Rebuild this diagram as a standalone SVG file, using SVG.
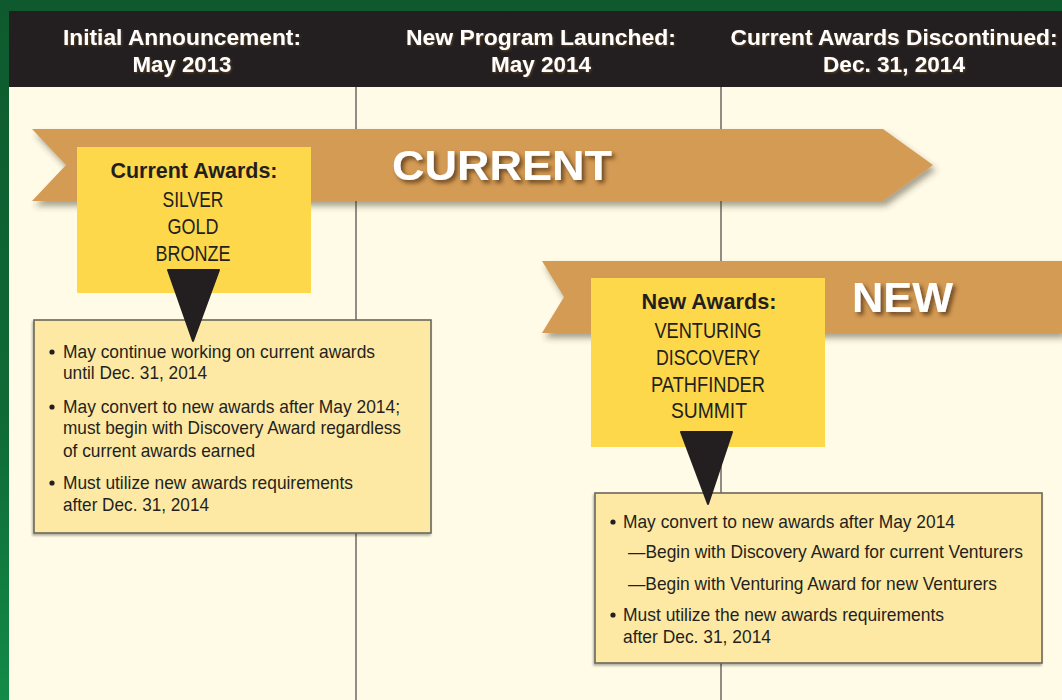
<svg xmlns="http://www.w3.org/2000/svg" width="1062" height="700" viewBox="0 0 1062 700">
<defs>
<linearGradient id="green" x1="0" y1="0" x2="0" y2="1">
<stop offset="0" stop-color="#0e5a2e"/>
<stop offset="0.6" stop-color="#0f6a36"/>
<stop offset="1" stop-color="#138a48"/>
</linearGradient>
<filter id="ribShadow" x="-5%" y="-30%" width="115%" height="170%">
<feDropShadow dx="3" dy="5" stdDeviation="3" flood-color="#3a3020" flood-opacity="0.45"/>
</filter>
<filter id="txtShadow" x="-10%" y="-30%" width="130%" height="170%">
<feDropShadow dx="3" dy="3" stdDeviation="2" flood-color="#4a2e0a" flood-opacity="0.75"/>
</filter>
<filter id="boxShadow" x="-5%" y="-5%" width="110%" height="115%">
<feDropShadow dx="-1" dy="2" stdDeviation="1.2" flood-color="#000" flood-opacity="0.3"/>
</filter>
<filter id="hdrGlow" x="-5%" y="-30%" width="110%" height="160%">
<feDropShadow dx="1" dy="1" stdDeviation="0.8" flood-color="#8a5a20" flood-opacity="0.6"/>
</filter>
</defs>
<style>
.hdr{font-family:"Liberation Sans",Arial,sans-serif;font-weight:bold;font-size:21.5px;fill:#ffffff;text-anchor:middle}
.ttl{font-family:"Liberation Sans",Arial,sans-serif;font-weight:bold;font-size:22px;fill:#231f20;text-anchor:middle}
.itm{font-family:"Liberation Sans",Arial,sans-serif;font-size:22.5px;fill:#231f20;text-anchor:middle}
.big{font-family:"Liberation Sans",Arial,sans-serif;font-weight:bold;fill:#ffffff}
.txt{font-family:"Liberation Sans",Arial,sans-serif;font-size:18.5px;fill:#231f20}
.rib{fill:#d49b55}
.ybox{fill:#fdd84b}
.info{fill:#fee9a4;stroke:#6b675c;stroke-width:1.6}
.vline{stroke:#918d84;stroke-width:2}
.ptr{fill:#231f20;stroke:#231f20;stroke-width:2;stroke-linejoin:round}
.dot{fill:#231f20}
</style>

<!-- background -->
<rect x="0" y="0" width="1062" height="700" fill="url(#green)"/>
<rect x="9" y="11" width="1053" height="76" fill="#231f20"/>
<rect x="9" y="87" width="1053" height="613" fill="#fffbe7"/>

<!-- header -->
<g id="header" filter="url(#hdrGlow)">
<text class="hdr" x="182" y="45" textLength="238" lengthAdjust="spacingAndGlyphs">Initial Announcement:</text>
<text class="hdr" x="182" y="72" textLength="99" lengthAdjust="spacingAndGlyphs">May 2013</text>
<text class="hdr" x="541" y="45" textLength="270" lengthAdjust="spacingAndGlyphs">New Program Launched:</text>
<text class="hdr" x="541" y="72" textLength="100" lengthAdjust="spacingAndGlyphs">May 2014</text>
<text class="hdr" x="894" y="45" textLength="327" lengthAdjust="spacingAndGlyphs">Current Awards Discontinued:</text>
<text class="hdr" x="894" y="72" textLength="142" lengthAdjust="spacingAndGlyphs">Dec. 31, 2014</text>
</g>

<!-- timeline divider lines -->
<g id="dividers">
<line class="vline" x1="356" y1="87" x2="356" y2="700"/>
<line class="vline" x1="721" y1="87" x2="721" y2="700"/>
</g>

<!-- CURRENT ribbon -->
<g id="ribbon-current">
<polygon class="rib" filter="url(#ribShadow)" points="32,129 883,129 933,165 883,201 32,201 66,165"/>
<text class="big" x="392" y="180" font-size="43" textLength="220" lengthAdjust="spacingAndGlyphs" filter="url(#txtShadow)">CURRENT</text>
</g>

<!-- Current awards box -->
<g id="current-awards">
<rect class="ybox" x="77" y="147" width="234" height="146"/>
<text class="ttl" x="194" y="178" textLength="167" lengthAdjust="spacingAndGlyphs">Current Awards:</text>
<text class="itm" x="193" y="207" textLength="61" lengthAdjust="spacingAndGlyphs">SILVER</text>
<text class="itm" x="193" y="234" textLength="51" lengthAdjust="spacingAndGlyphs">GOLD</text>
<text class="itm" x="193" y="261" textLength="75" lengthAdjust="spacingAndGlyphs">BRONZE</text>
</g>

<!-- Current info box -->
<g id="current-info">
<rect class="info" filter="url(#boxShadow)" x="34" y="320" width="397" height="213"/>
<circle class="dot" cx="52" cy="352" r="2.6"/>
<text class="txt" x="63" y="358" textLength="312" lengthAdjust="spacingAndGlyphs">May continue working on current awards</text>
<text class="txt" x="63" y="379" textLength="144" lengthAdjust="spacingAndGlyphs">until Dec. 31, 2014</text>
<circle class="dot" cx="52" cy="407" r="2.6"/>
<text class="txt" x="63" y="413" textLength="337" lengthAdjust="spacingAndGlyphs">May convert to new awards after May 2014;</text>
<text class="txt" x="63" y="434" textLength="338" lengthAdjust="spacingAndGlyphs">must begin with Discovery Award regardless</text>
<text class="txt" x="63" y="457" textLength="192" lengthAdjust="spacingAndGlyphs">of current awards earned</text>
<circle class="dot" cx="52" cy="483" r="2.6"/>
<text class="txt" x="63" y="489" textLength="290" lengthAdjust="spacingAndGlyphs">Must utilize new awards requirements</text>
<text class="txt" x="63" y="511" textLength="146" lengthAdjust="spacingAndGlyphs">after Dec. 31, 2014</text>
</g>

<!-- NEW ribbon -->
<g id="ribbon-new">
<polygon class="rib" filter="url(#ribShadow)" points="542,261 1062,261 1062,333 542,333 564,297"/>
<text class="big" x="852" y="312" font-size="42" textLength="101" lengthAdjust="spacingAndGlyphs" filter="url(#txtShadow)">NEW</text>
</g>

<!-- New awards box -->
<g id="new-awards">
<rect class="ybox" x="591" y="278" width="234" height="169"/>
<text class="ttl" x="709" y="309" textLength="135" lengthAdjust="spacingAndGlyphs">New Awards:</text>
<text class="itm" x="708" y="338" textLength="107" lengthAdjust="spacingAndGlyphs">VENTURING</text>
<text class="itm" x="708" y="365" textLength="104" lengthAdjust="spacingAndGlyphs">DISCOVERY</text>
<text class="itm" x="708" y="392" textLength="114" lengthAdjust="spacingAndGlyphs">PATHFINDER</text>
<text class="itm" x="709" y="418" textLength="76" lengthAdjust="spacingAndGlyphs">SUMMIT</text>
</g>

<!-- New info box -->
<g id="new-info">
<rect class="info" filter="url(#boxShadow)" x="595" y="493" width="447" height="170"/>
<circle class="dot" cx="613" cy="522" r="2.6"/>
<text class="txt" x="623" y="528" textLength="332" lengthAdjust="spacingAndGlyphs">May convert to new awards after May 2014</text>
<text class="txt" x="628" y="558" textLength="395" lengthAdjust="spacingAndGlyphs">—Begin with Discovery Award for current Venturers</text>
<text class="txt" x="628" y="590" textLength="369" lengthAdjust="spacingAndGlyphs">—Begin with Venturing Award for new Venturers</text>
<circle class="dot" cx="613" cy="615" r="2.6"/>
<text class="txt" x="623" y="621" textLength="321" lengthAdjust="spacingAndGlyphs">Must utilize the new awards requirements</text>
<text class="txt" x="623" y="643" textLength="148" lengthAdjust="spacingAndGlyphs">after Dec. 31, 2014</text>
</g>

<!-- pointers -->
<g id="connectors">
<polygon class="ptr" points="168,270 219,270 193,341"/>
<polygon class="ptr" points="681,432 732,432 708,504"/>
</g>
</svg>
